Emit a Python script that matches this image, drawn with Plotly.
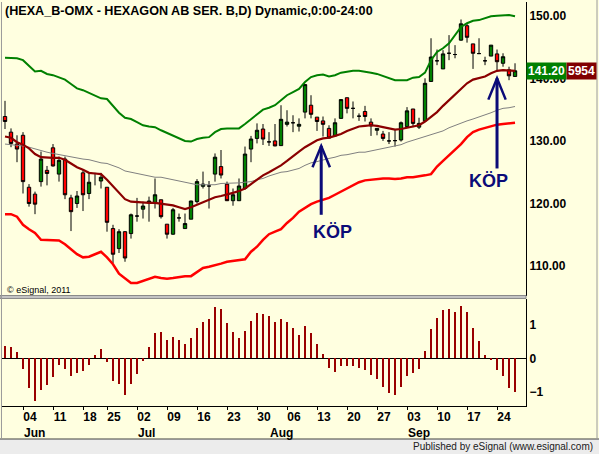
import plotly.graph_objects as go

# --- daily bars, HEXA B (Jun - Sep) ---
open_ = [133.9, 131.4, 129.5, 130.9, 122.6, 121.5, 123.5, 125.3, 128.9, 124.7,
         127.1, 120.9, 120.0, 124.9, 121.6, 124.8, 123.6, 122.6, 116.0, 112.8,
         115.5, 115.2, 118.0, 119.1, 120.1, 120.0, 120.6, 116.7, 115.1, 117.7,
         116.0, 117.5, 120.3, 122.75, 122.8, 124.7, 125.9, 123.1, 120.45, 120.45,
         122.4, 128.7, 130.4, 131.9, 129.85, 130.0, 129.25, 132.65, 132.9, 132.35,
         134.6, 135.7, 133.8, 133.2, 132.0, 130.8, 133.6, 136.9, 135.2, 133.95,
         134.7, 133.0, 131.7, 131.1, 130.0, 130.05, 130.15, 132.3, 135.1, 132.2,
         133.2, 139.5, 142.8, 141.5, 144.0, 143.8, 146.1, 148.4, 145.5, 143.95,
         142.8, 143.55, 143.9, 142.4, 141.35, 140.3]
high = [136.4, 132.0, 130.9, 131.4, 123.1, 121.9, 128.3, 126.0, 129.5, 127.5,
        127.5, 121.4, 122.0, 125.4, 124.9, 124.9, 124.9, 122.6, 116.6, 115.9,
        115.6, 118.4, 120.9, 120.3, 121.1, 124.0, 120.6, 116.7, 119.3, 118.4,
        118.4, 120.45, 123.9, 125.1, 123.6, 128.0, 128.55, 123.5, 122.4, 124.0,
        129.1, 130.8, 132.8, 132.7, 131.4, 132.7, 135.7, 134.9, 134.1, 133.6,
        139.05, 137.3, 133.8, 133.9, 132.5, 133.6, 136.65, 136.9, 136.3, 134.4,
        135.6, 133.6, 132.0, 131.6, 131.4, 131.9, 133.1, 135.4, 135.1, 133.7,
        140.0, 146.4, 144.6, 144.5, 146.9, 145.3, 149.4, 148.8, 145.5, 146.4,
        143.45, 145.3, 144.6, 144.0, 141.85, 142.4]
low = [131.9, 129.0, 126.6, 121.6, 119.5, 118.3, 122.7, 122.9, 125.9, 123.5,
       120.7, 115.6, 119.3, 118.8, 120.7, 122.9, 122.4, 115.5, 110.5, 112.1,
       110.7, 114.4, 117.1, 117.6, 117.1, 119.2, 117.6, 114.4, 115.0, 117.1,
       116.0, 117.5, 120.0, 122.4, 119.2, 123.5, 124.0, 120.4, 119.65, 120.4,
       122.2, 126.6, 129.6, 129.35, 129.2, 129.15, 129.2, 132.3, 131.4, 131.5,
       133.6, 133.6, 131.6, 130.7, 130.4, 130.7, 133.6, 134.4, 133.6, 133.2,
       133.1, 130.8, 130.9, 130.0, 129.5, 129.1, 129.9, 132.3, 132.2, 131.9,
       133.2, 139.5, 142.1, 141.5, 142.9, 143.2, 146.0, 145.7, 141.5, 143.95,
       142.1, 143.55, 141.3, 141.85, 139.7, 140.3]
close = [133.1, 129.6, 128.7, 123.5, 120.0, 119.9, 127.1, 124.8, 126.0, 126.9,
         121.4, 118.7, 121.2, 121.4, 123.4, 124.8, 124.2, 117.0, 111.9, 115.5,
         111.3, 118.2, 118.0, 119.6, 120.4, 121.4, 117.9, 115.1, 119.0, 117.7,
         116.8, 120.4, 123.5, 123.1, 122.8, 127.4, 124.55, 120.45, 121.4, 122.8,
         127.9, 130.3, 131.7, 130.3, 129.85, 129.2, 133.45, 133.0, 132.9, 132.65,
         139.0, 134.25, 133.1, 132.65, 130.45, 132.9, 136.6, 135.2, 135.2, 133.95,
         133.9, 132.4, 132.0, 130.4, 130.0, 130.05, 132.9, 134.8, 132.8, 132.8,
         139.2, 143.4, 142.8, 143.9, 144.0, 143.8, 148.7, 146.55, 144.0, 143.95,
         142.8, 145.3, 142.65, 143.45, 140.4, 141.2]

# --- overlays ---
upper_band = [143.3, 143.2, 143.2, 142.9, 142.0, 141.1, 141.2, 140.7, 140.5, 140.1,
              139.8, 139.1, 138.4, 138.1, 137.7, 137.2, 136.8, 136.7, 135.6, 134.5,
              133.7, 133.5, 133.0, 132.5, 132.3, 132.2, 131.7, 131.3, 130.9, 130.5,
              130.0, 129.9, 130.3, 130.5, 130.6, 131.4, 131.9, 132.0, 132.0, 132.0,
              132.7, 133.5, 134.3, 135.0, 135.3, 135.7, 136.5, 137.3, 137.8, 138.3,
              139.4, 140.2, 140.5, 140.6, 140.3, 140.5, 140.9, 141.1, 141.2, 141.2,
              141.1, 140.9, 140.7, 140.4, 140.1, 139.7, 139.7, 139.7, 140.1, 140.2,
              140.9, 142.9, 144.2, 144.8, 145.6, 146.9, 148.2, 148.8, 149.2, 149.3,
              149.6, 149.9, 150.0, 150.1, 150.1, 149.9]
lower_band = [118.3, 118.3, 117.9, 116.6, 115.9, 115.3, 114.2, 114.2, 114.2, 114.1,
              113.5, 112.7, 111.9, 111.4, 111.5, 111.9, 112.3, 111.4, 110.3, 108.8,
              108.0, 107.3, 107.3, 107.6, 108.0, 108.3, 108.1, 108.0, 108.1, 108.3,
              108.4, 108.4, 109.1, 109.7, 109.9, 110.1, 110.4, 110.7, 110.8, 111.0,
              111.1, 112.3, 113.1, 114.2, 115.1, 115.5, 115.9, 116.9, 117.7, 118.7,
              119.3, 119.9, 120.3, 120.6, 120.9, 121.4, 121.9, 122.5, 123.0, 123.4,
              123.7, 123.8, 124.0, 124.0, 124.0, 123.9, 124.0, 124.2, 124.2, 124.3,
              124.5, 124.7, 125.9, 126.8, 127.7, 128.6, 129.5, 130.6, 131.4, 131.8,
              132.1, 132.3, 132.6, 132.7, 132.8, 132.9]
ma_fast = [130.7, 130.5, 129.8, 129.4, 128.8, 127.9, 127.4, 127.3, 127.3, 127.3,
           127.0, 126.4, 125.8, 125.4, 124.9, 124.8, 124.7, 123.8, 122.8, 121.7,
           120.7, 120.3, 120.2, 120.2, 120.1, 120.1, 120.0, 119.9, 119.7, 119.4,
           119.1, 119.4, 119.8, 120.1, 120.6, 121.0, 121.2, 121.4, 121.7, 122.0,
           122.4, 123.1, 123.8, 124.5, 125.0, 125.5, 126.1, 126.8, 127.6, 128.3,
           129.0, 129.6, 130.1, 130.4, 130.5, 130.8, 131.1, 131.6, 132.0, 132.3,
           132.4, 132.5, 132.4, 132.2, 131.9, 131.8, 131.9, 132.1, 132.3, 132.5,
           133.1, 133.8, 134.6, 135.6, 136.5, 137.4, 138.2, 139.2, 139.8, 140.1,
           140.3, 140.8, 141.2, 141.3, 141.3, 141.2]
ma_slow = [129.5, 129.4, 129.4, 129.2, 129.0, 128.7, 128.4, 128.2, 128.0, 127.8,
           127.6, 127.4, 127.2, 127.1, 127.0, 126.7, 126.5, 126.4, 126.1, 125.7,
           125.2, 125.0, 124.7, 124.5, 124.3, 124.2, 124.2, 124.0, 123.8, 123.5,
           123.3, 123.1, 123.0, 123.0, 123.0, 123.0, 123.2, 123.2, 123.2, 123.3,
           123.4, 123.5, 123.8, 124.0, 124.4, 124.7, 125.0, 125.1, 125.4, 125.6,
           126.1, 126.5, 126.7, 127.0, 127.2, 127.4, 127.7, 127.8, 128.0, 128.2,
           128.2, 128.4, 128.6, 128.7, 129.0, 129.2, 129.4, 129.8, 130.1, 130.4,
           130.7, 131.0, 131.3, 131.6, 132.1, 132.5, 132.8, 133.2, 133.5, 133.8,
           134.1, 134.5, 134.9, 135.2, 135.3, 135.5]

# --- oscillator (lower pane) ---
osc = [0.37, 0.34, 0.19, -0.32, -0.88, -1.27, -0.95, -0.80, -0.55, -0.20,
       -0.32, -0.52, -0.43, -0.38, -0.20, 0.10, 0.28, -0.10, -0.68, -0.76,
       -1.10, -0.76, -0.47, -0.08, 0.34, 0.75, 0.79, 0.55, 0.64, 0.55,
       0.43, 0.59, 0.90, 1.08, 1.17, 1.53, 1.47, 1.05, 0.79, 0.61,
       0.82, 1.11, 1.35, 1.31, 1.26, 1.08, 1.17, 1.08, 0.90, 0.70,
       0.96, 0.76, 0.43, 0.13, -0.28, -0.41, -0.23, -0.23, -0.23, -0.29,
       -0.35, -0.50, -0.62, -0.85, -1.04, -1.10, -0.86, -0.53, -0.44, -0.32,
       0.22, 0.88, 1.20, 1.44, 1.47, 1.38, 1.56, 1.38, 0.90, 0.52,
       0.10, -0.03, -0.35, -0.53, -0.89, -1.00]

# --- x axis: weekly ticks (bar index) and labels ---
week_ticks = [3, 8, 13, 17, 22, 27, 32, 37, 42, 47, 52, 57, 62, 67, 72, 77, 82]
week_labels = ["04", "11", "18", "25", "02", "09", "16", "23", "30", "06",
               "13", "20", "27", "03", "10", "17", "24"]
month_pos = [3, 22, 44, 67]
month_labels = ["Jun", "Jul", "Aug", "Sep"]

price_ticks = [110, 120, 130, 140, 150]
osc_ticks = [-1, 0, 1]

# buy signals: arrow x (bar index), tip / tail price, label position
buy_x = [52.7, 82.0]
buy_tip = [129.2, 140.0]
buy_tail = [118.2, 125.6]
buy_label_x = [54.6, 80.5]
buy_label_y = [115.5, 123.65]

last_price = 141.20
last_ma_tail = "5954"

BG = "#FFFFE0"
NAVY = "#0B0B78"
FONT = "Liberation Sans"

bars = list(range(len(close)))

fig = go.Figure()

fig.add_trace(go.Scatter(x=bars, y=ma_slow, mode="lines",
                         line=dict(color="#808080", width=1),
                         xaxis="x", yaxis="y", showlegend=False))
fig.add_trace(go.Scatter(x=bars, y=upper_band, mode="lines",
                         line=dict(color="#008000", width=2),
                         xaxis="x", yaxis="y", showlegend=False))
fig.add_trace(go.Scatter(x=bars, y=lower_band, mode="lines",
                         line=dict(color="#FF0000", width=2.5),
                         xaxis="x", yaxis="y", showlegend=False))
fig.add_trace(go.Scatter(x=bars, y=ma_fast, mode="lines",
                         line=dict(color="#8B0000", width=2.2),
                         xaxis="x", yaxis="y", showlegend=False))

fig.add_trace(go.Candlestick(
    x=bars, open=open_, high=high, low=low, close=close,
    increasing=dict(fillcolor="#008000", line=dict(color="#000000", width=1)),
    decreasing=dict(fillcolor="#FF0000", line=dict(color="#000000", width=1)),
    whiskerwidth=0, xaxis="x", yaxis="y", showlegend=False,
))

fig.add_trace(go.Bar(x=bars, y=osc, width=0.34, marker=dict(color="#990000", line=dict(width=0)),
                     xaxis="x2", yaxis="y2", showlegend=False))

# --- buy arrows ---
shapes = []
for bx, tip, tail in zip(buy_x, buy_tip, buy_tail):
    shapes.append(dict(type="line", xref="x", yref="y", x0=bx, x1=bx, y0=tail, y1=tip,
                       line=dict(color=NAVY, width=3)))
    shapes.append(dict(type="path", xref="x", yref="y",
                       path=f"M {bx - 1.45},{tip - 3.4} L {bx},{tip} L {bx + 1.45},{tip - 3.4}",
                       line=dict(color=NAVY, width=2.5)))

# pane separator, frame and footer strip (paper coords)
shapes += [
    dict(type="rect", xref="paper", yref="paper", x0=-0.0038, x1=1.0, y0=0.2661, y1=0.2735,
         fillcolor="#C4C4C4", line=dict(color="#8A8A8A", width=1), layer="above"),
    dict(type="rect", xref="paper", yref="paper", x0=-0.0038, x1=1.1393, y0=-0.1188, y1=-0.0817,
         fillcolor="#ECECEC", line=dict(width=0), layer="above"),
    dict(type="line", xref="paper", yref="paper", x0=-0.0038, x1=1.1393, y0=-0.0817, y1=-0.0817,
         line=dict(color="#404040", width=1)),
    dict(type="line", xref="paper", yref="paper", x0=-0.001, x1=-0.001, y0=-0.0817, y1=1.0,
         line=dict(color="#9A9A9A", width=1)),
    dict(type="line", xref="paper", yref="paper", x0=1.1355, x1=1.1355, y0=-0.0817, y1=1.005,
         line=dict(color="#9A9A9A", width=1)),
]

annotations = [
    dict(text="(HEXA_B-OMX - HEXAGON AB SER. B,D) Dynamic,0:00-24:00", xref="paper", yref="paper",
         x=0.002, y=1.0, xanchor="left", yanchor="top", showarrow=False,
         font=dict(family=FONT, size=12.6, color="#000000", weight="bold")),
    dict(text="© eSignal, 2011", xref="paper", yref="paper", x=0.006, y=0.287,
         xanchor="left", yanchor="middle", showarrow=False,
         font=dict(family=FONT, size=9, color="#000000")),
    dict(text="Published by eSignal (www.esignal.com)", xref="paper", yref="paper",
         x=1.1317, y=-0.1002, xanchor="right", yanchor="middle", showarrow=False,
         font=dict(family=FONT, size=10, color="#202020")),
    # last price tags
    dict(text=f"{last_price:.2f}", xref="paper", yref="y", x=1.0, y=last_price, xanchor="left",
         yanchor="middle", showarrow=False, bgcolor="#008000", borderpad=1,
         font=dict(family=FONT, size=12, color="#FFFFFF", weight="bold")),
    dict(text=last_ma_tail, xref="paper", yref="y", x=1.0763, y=last_price, xanchor="left",
         yanchor="middle", showarrow=False, bgcolor="#800000", borderpad=1,
         font=dict(family=FONT, size=12, color="#FFFFFF", weight="bold")),
]
for lx, ly in zip(buy_label_x, buy_label_y):
    annotations.append(dict(text="KÖP", xref="x", yref="y", x=lx, y=ly, showarrow=False,
                            font=dict(family=FONT, size=18, color=NAVY, weight="bold")))
for mpos, mlab in zip(month_pos, month_labels):
    annotations.append(dict(text=mlab, xref="x2", yref="paper", x=mpos, y=-0.068,
                            xanchor="left", yanchor="middle", showarrow=False, borderpad=0,
                            font=dict(family=FONT, size=12, color="#000000", weight="bold")))

x_range = [-0.5, 86.83]

fig.update_layout(
    width=599, height=454,
    margin=dict(l=2, r=73, t=2, b=48),
    paper_bgcolor=BG, plot_bgcolor=BG,
    showlegend=False, boxgap=0.2, bargap=0,
    font=dict(family=FONT, size=12, color="#000000"),
    shapes=shapes, annotations=annotations,
    xaxis=dict(domain=[0, 1], range=x_range, anchor="y", showticklabels=False,
               showgrid=False, zeroline=False, showline=False, ticks="",
               rangeslider=dict(visible=False), matches="x2"),
    yaxis=dict(domain=[0.2723, 1.0], range=[105.23, 152.19], side="right", anchor="x",
               tickvals=price_ticks, tickformat=".2f", showgrid=False, zeroline=False,
               showline=True, linecolor="#000000", linewidth=1, ticks="",
               tickfont=dict(family=FONT, size=12, color="#000000", weight="bold")),
    xaxis2=dict(domain=[0, 1], range=x_range, anchor="y2", tickvals=week_ticks, ticktext=week_labels,
                ticks="outside", ticklen=3, tickcolor="#000000", ticklabelshift=7,
                ticklabelstandoff=-3,
                showgrid=False, zeroline=False, showline=True, linecolor="#000000", linewidth=1,
                tickfont=dict(family=FONT, size=12, color="#000000", weight="bold")),
    yaxis2=dict(domain=[0, 0.2649], range=[-1.415, 1.76], side="right", anchor="x2",
                tickvals=osc_ticks, showgrid=False, zeroline=True, zerolinecolor="#000000",
                zerolinewidth=1, showline=True, linecolor="#000000", linewidth=1, ticks="",
                tickfont=dict(family=FONT, size=12, color="#000000", weight="bold")),
)

# the page body has a default 8px margin; drop it so the figure sits at the window corner
fig.write_html("out.html", config={"displayModeBar": False},
               post_script="document.body.style.margin='0';")
